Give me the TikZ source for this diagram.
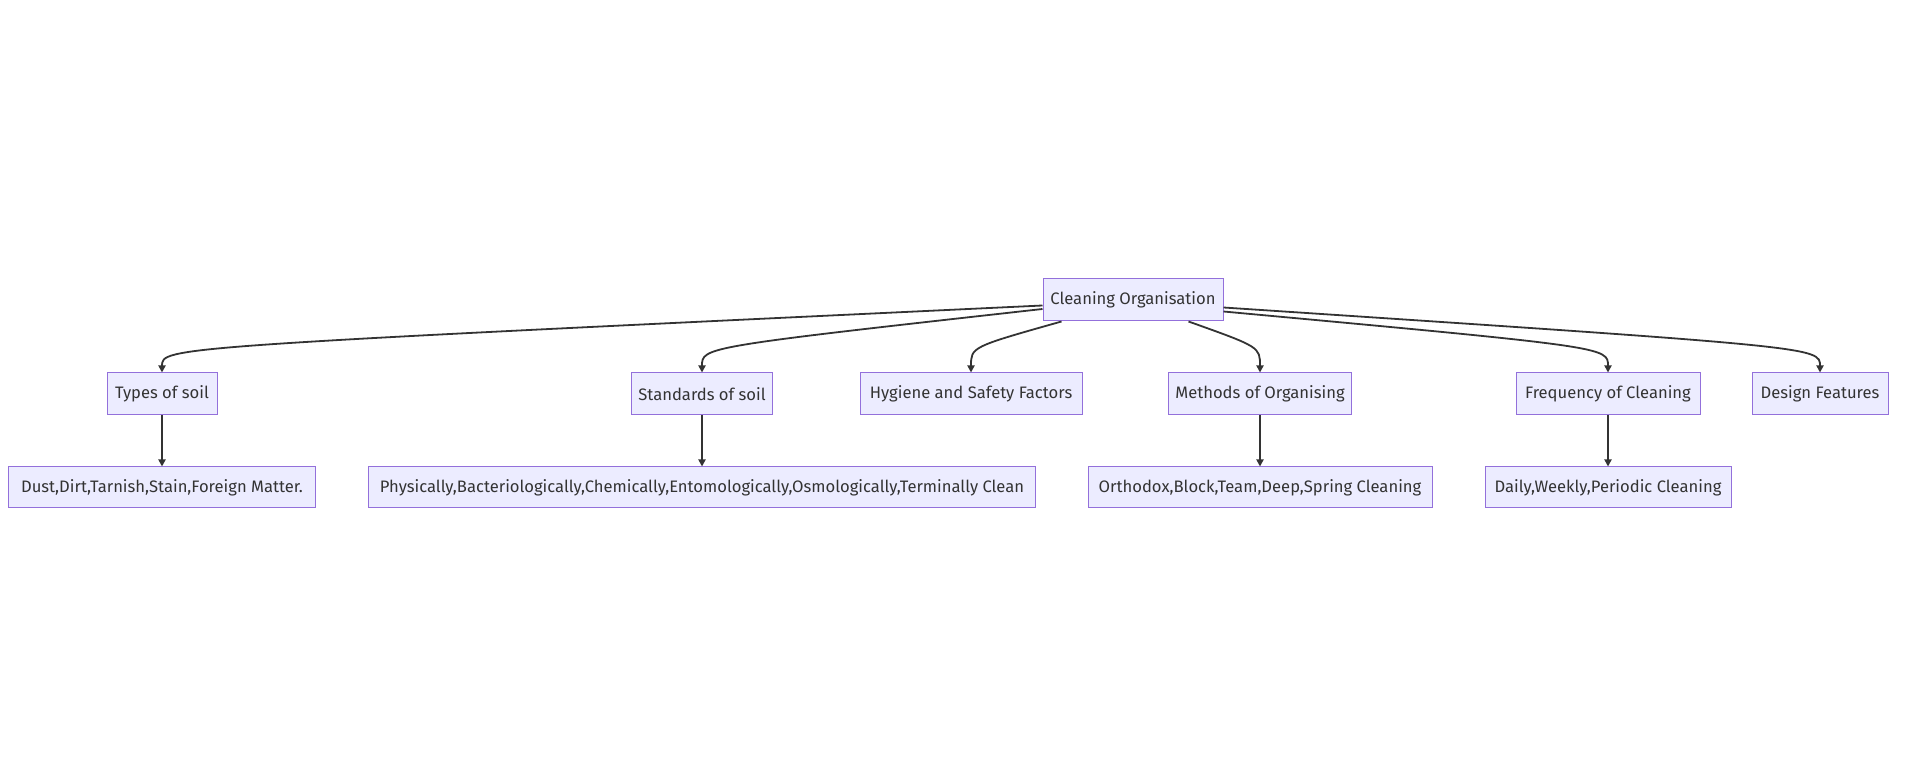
\documentclass[tikz,border=0pt]{standalone}
\usepackage{fontspec}
\setmainfont{Fira Sans}
\usepackage{tikz}
\usetikzlibrary{arrows.meta,calc}

\definecolor{boxfill}{RGB}{236,236,255}
\definecolor{boxline}{RGB}{147,112,219}
\definecolor{inkgray}{RGB}{51,51,51}

\tikzset{
  box/.style={draw=boxline, fill=boxfill, line width=0.5pt, text=inkgray, font=\fontsize{8.3}{10}\selectfont, minimum height=21pt, inner sep=0pt},
  link/.style={draw=inkgray, line width=0.9pt, -{Triangle[length=3.5pt,width=3.5pt]}},
}

\begin{document}
\begin{tikzpicture}[x=0.5pt,y=0.5pt,yscale=-1]
\useasboundingbox (0,0) rectangle (1908,780);
\coordinate (rank) at (0,347);

% Top Node
\node[box, minimum width=90pt] (root) at (1133,300) {Cleaning Organisation};

% Middle Row
\node[box, minimum width=55pt] (types) at (162,394) {Types of soil};
\node[box, minimum width=70.5pt] (standards) at (702,394) {Standards of soil};
\node[box, minimum width=111pt] (hygiene) at (971,394) {Hygiene and Safety Factors};
\node[box, minimum width=91.5pt] (methods) at (1260,394) {Methods of Organising};
\node[box, minimum width=92pt] (frequency) at (1608,394) {Frequency of Cleaning};
\node[box, minimum width=68pt] (design) at (1820,394) {Design Features};

% Bottom Row
\node[box, minimum width=153.5pt, minimum height=20.5pt] (dust) at (162,487.5) {Dust,Dirt,Tarnish,Stain,Foreign Matter.};
\node[box, minimum width=333.5pt, minimum height=20.5pt] (physically) at (702,487.5) {Physically,Bacteriologically,Chemically,Entomologically,Osmologically,Terminally Clean};
\node[box, minimum width=172pt, minimum height=20.5pt] (orthodox) at (1260,487.5) {Orthodox,Block,Team,Deep,Spring Cleaning};
\node[box, minimum width=123pt, minimum height=20.5pt] (daily) at (1608,487.5) {Daily,Weekly,Periodic Cleaning};

% Curved Links
\draw[link] ($(root.west)+(0,5.5)$) .. controls (types.north |- rank) and (types.north |- rank) .. (types.north);
\draw[link] ($(root.west)+(0,9)$) .. controls (standards.north |- rank) and (standards.north |- rank) .. (standards.north);
\draw[link] ($(root.south west)+(19,0)$) .. controls (hygiene.north |- rank) and (hygiene.north |- rank) .. (hygiene.north);
\draw[link] ($(root.south east)+(-35,0)$) .. controls (methods.north |- rank) and (methods.north |- rank) .. (methods.north);
\draw[link] ($(root.east)+(0,11.5)$) .. controls (frequency.north |- rank) and (frequency.north |- rank) .. (frequency.north);
\draw[link] ($(root.east)+(0,7.5)$) .. controls (design.north |- rank) and (design.north |- rank) .. (design.north);

% Straight Links
\draw[link] (types) -- (dust);
\draw[link] (standards) -- (physically);
\draw[link] (methods) -- (orthodox);
\draw[link] (frequency) -- (daily);
\end{tikzpicture}
\end{document}
